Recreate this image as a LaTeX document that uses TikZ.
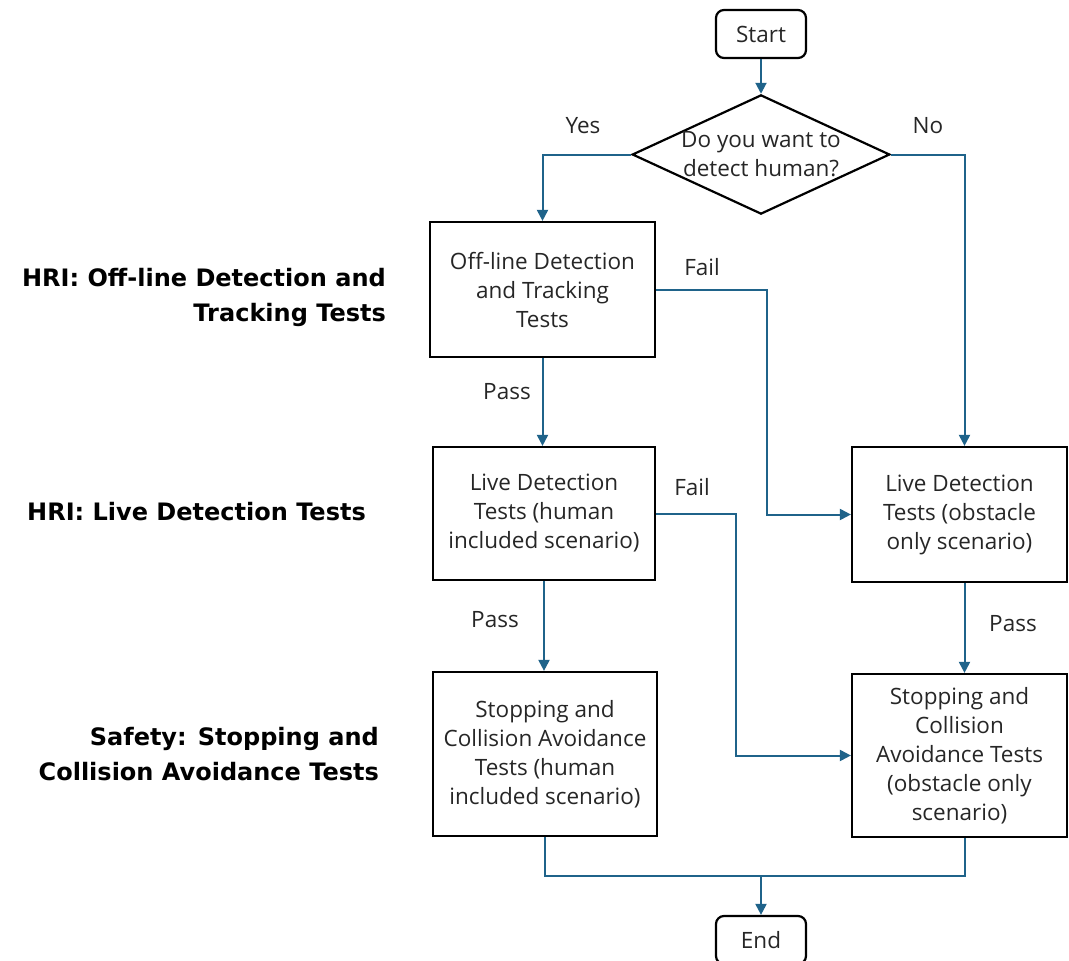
\documentclass[tikz,border=0pt]{standalone}
\usepackage{fontspec}
\setmainfont{Open Sans}
\newfontfamily\stagefont{DejaVu Sans}
\usetikzlibrary{positioning,shapes.geometric,arrows.meta}
\definecolor{flowblue}{RGB}{31,99,138}

\begin{document}
\begin{tikzpicture}[x=1pt,y=-1pt,
  every node/.style={font=\fontsize{22.5}{29}\selectfont,text=black!85},
  termbox/.style={draw=black,line width=2.2pt,rounded corners=8pt,minimum width=90pt,minimum height=48pt,inner sep=0pt},
  decision/.style={draw=black,line width=2.2pt,diamond,aspect=2.16,minimum width=257pt,minimum height=119pt,inner sep=0pt,align=center},
  testbox/.style={draw=black,line width=2.2pt,inner sep=0pt,align=center},
  flow/.style={draw=flowblue,line width=2pt,-{Triangle[length=11pt,width=11pt]}},
  flowline/.style={draw=flowblue,line width=2pt},
  flowlabel/.style={inner sep=0pt},
  stagelabel/.style={font=\stagefont\fontsize{24}{35}\bfseries\selectfont,text=black,align=right,anchor=east,inner sep=0pt}
]
\useasboundingbox (0,0) rectangle (1069,961);

% flow chart boxes
\node[termbox] (start) at (761,34) {Start};
\node[decision] (ask) at (761,154.5) {Do you want to\\detect human?};
\node[testbox,minimum width=225pt,minimum height=135pt] (offline) at (542.5,289.5) {Off-line Detection\\and Tracking\\Tests};
\node[testbox,minimum width=222pt,minimum height=133pt] (livehum) at (544,513.5) {Live Detection\\Tests (human\\included scenario)};
\node[testbox,minimum width=224pt,minimum height=164pt] (stophum) at (545,754) {Stopping and\\Collision Avoidance\\Tests (human\\included scenario)};
\node[testbox,minimum width=215pt,minimum height=135pt] (liveobs) at (959.5,514.5) {Live Detection\\Tests (obstacle\\only scenario)};
\node[testbox,minimum width=215pt,minimum height=163pt] (stopobs) at (959.5,755.5) {Stopping and\\Collision\\Avoidance Tests\\(obstacle only\\scenario)};
\node[termbox] (finish) at (761,940) {End};

% stage labels
\node[stagelabel] (stage1) at (386,297) {HRI: Off-line Detection and\\Tracking Tests};
\node[stagelabel] (stage2) at (366,512) {HRI: Live Detection Tests};
\node[stagelabel] (stage3) at (379,754) {Safety: Stopping and\\Collision Avoidance Tests};

% connectors
\draw[flow] (start) -- (ask);
\draw[flow] (ask.west) -| (offline.north);
\draw[flow] (ask.east) -| ([xshift=5pt]liveobs.north);
\draw[flow] (offline.south) -- (offline.south |- livehum.north);
\draw[flow] (offline.east) -- ++(111,0) |- (liveobs.west);
\draw[flow] (livehum.south) -- (livehum.south |- stophum.north);
\draw[flow] (livehum.east) -- ++(80,0) |- (stopobs.west);
\draw[flow] ([xshift=5pt]liveobs.south) -- ([xshift=5pt]stopobs.north);
\coordinate (merge) at (761,876);
\draw[flowline] (stophum.south) |- (merge) -| ([xshift=5pt]stopobs.south);
\draw[flow] (merge) -- (finish.north);

% connector labels
\node[flowlabel] at (583,126) {Yes};
\node[flowlabel] at (928,126) {No};
\node[flowlabel] at (702,267) {Fail};
\node[flowlabel] at (507,392) {Pass};
\node[flowlabel] at (692,487) {Fail};
\node[flowlabel] at (495,620) {Pass};
\node[flowlabel] at (1013,624) {Pass};
\end{tikzpicture}
\end{document}
